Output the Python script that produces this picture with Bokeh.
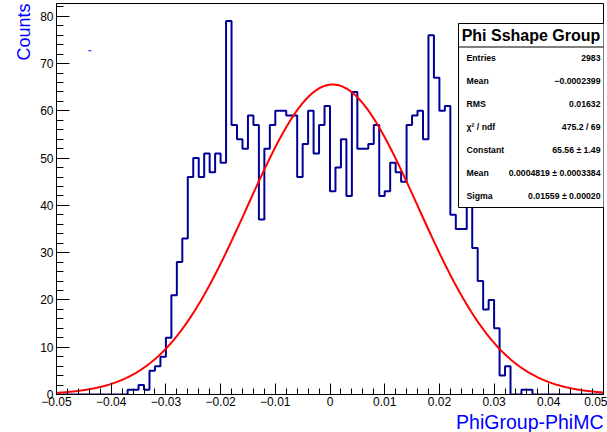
import numpy as np
from bokeh.plotting import figure
from bokeh.models import Range1d, FixedTicker, Title
from bokeh.embed import file_html
from bokeh.resources import INLINE
from bokeh.core.properties import value

# ---------------- data ----------------
x_min, x_max = -0.05, 0.05
n_bins = 100
counts = [
    0, 0, 0, 0, 0, 0, 0, 0, 0, 0,          # -0.050 .. -0.041
    0, 0, 0, 1, 1, 2, 1, 5, 6, 8,          # -0.040 .. -0.031
    12, 21, 28, 33, 46, 50, 46, 51, 47, 51,  # -0.030 .. -0.021
    49, 79, 57, 54, 52, 59, 57, 37, 52, 57,  # -0.020 .. -0.011
    60, 60, 59, 59, 46, 53, 60, 51, 57, 61,  # -0.010 .. -0.001
    43, 48, 54, 42, 64, 52, 52, 53, 57, 42,  # 0.000 .. 0.009
    43, 49, 47, 45, 57, 59, 60, 54, 76, 67,  # 0.010 .. 0.019
    60, 61, 38, 35, 35, 43, 31, 24, 18, 20,  # 0.020 .. 0.029
    14, 4, 6, 0, 0, 1, 1, 0, 0, 0,         # 0.030 .. 0.039
    0, 0, 0, 0, 0, 0, 0, 0, 0, 0,          # 0.040 .. 0.049
]
y_max = 82.7
fit_constant = 65.56
fit_mean = 0.0004819
fit_sigma = 0.01559

x_ticks = [-0.05, -0.04, -0.03, -0.02, -0.01, 0.0, 0.01, 0.02, 0.03, 0.04, 0.05]
x_tick_labels = ["\u22120.05", "\u22120.04", "\u22120.03", "\u22120.02", "\u22120.01", "0",
                 "0.01", "0.02", "0.03", "0.04", "0.05"]
x_minor_ticks = [round(-0.05 + 0.002 * i, 4) for i in range(51)]
y_ticks = [0, 10, 20, 30, 40, 50, 60, 70, 80]
y_minor_ticks = list(range(0, 84, 2))

# stray blue marker visible in the upper left of the pad
stray_x = [-0.0439]
stray_y = [72.7]

stats_title = "Phi Sshape Group"
stat_names = ["Entries", "Mean", "RMS", "\u03c7\u00b2 / ndf", "Constant", "Mean", "Sigma"]
stat_values = ["2983", "\u22120.0002399", "0.01632", "475.2 / 69", "65.56 \u00b1 1.49",
               "0.0004819 \u00b1 0.0003384", "0.01559 \u00b1 0.00020"]
x_title = "PhiGroup-PhiMC"
y_title = "Counts"

# ---------------- layout (pixels) ----------------
W, H = 607, 432
FRAME_L, FRAME_R, FRAME_T, FRAME_B = 56, 603, 3, 394
PX_PER_X = (FRAME_R - FRAME_L) / (x_max - x_min)
PX_PER_Y = (FRAME_B - FRAME_T) / y_max


def px(xpix):
    return x_min + (xpix - FRAME_L) / PX_PER_X


def py(ypix):
    return (FRAME_B - ypix) / PX_PER_Y


FONT = value("Liberation Sans")

p = figure(width=W, height=H, x_range=Range1d(x_min, x_max), y_range=Range1d(0, y_max),
           output_backend="svg", toolbar_location=None, title=None,
           min_border_left=FRAME_L, min_border_right=W - FRAME_R,
           min_border_top=FRAME_T, min_border_bottom=H - FRAME_B)
p.background_fill_color = "white"
p.border_fill_color = "white"
p.outline_line_color = "black"
p.outline_line_width = 1
p.grid.visible = False

# axes
p.xaxis.ticker = FixedTicker(ticks=x_ticks, minor_ticks=x_minor_ticks)
p.xaxis.major_label_overrides = {t: l for t, l in zip(x_ticks, x_tick_labels)}
p.yaxis.ticker = FixedTicker(ticks=y_ticks, minor_ticks=y_minor_ticks)
for ax in (p.xaxis, p.yaxis):
    ax.axis_line_color = "black"
    ax.major_tick_line_color = "black"
    ax.minor_tick_line_color = "black"
    ax.major_tick_out = 0
    ax.minor_tick_out = 0
    ax.major_label_text_font = "Liberation Sans"
    ax.major_label_text_font_size = "12px"
    ax.major_label_text_color = "black"
p.xaxis.major_tick_in = 11
p.xaxis.minor_tick_in = 6
p.yaxis.major_tick_in = 13
p.yaxis.minor_tick_in = 7
p.xaxis.major_label_standoff = 2
p.yaxis.major_label_standoff = 3

# axis titles (right / top aligned as in the reference)
p.add_layout(Title(text=x_title, align="right", text_font="Liberation Sans",
                   text_font_size="19.5px", text_font_style="normal", text_color="#0000ff",
                   standoff=0, offset=0), "below")
p.add_layout(Title(text=y_title, align="right", text_font="Liberation Sans",
                   text_font_size="18px", text_font_style="normal", text_color="#0000ff",
                   standoff=7, offset=0), "left")

# histogram outline
edges = np.linspace(x_min, x_max, n_bins + 1)
p.step(x=edges, y=counts + [counts[-1]], mode="after", line_color="#000099", line_width=2)

# gaussian fit curve
xs = np.linspace(x_min, x_max, 600)
ys = fit_constant * np.exp(-0.5 * ((xs - fit_mean) / fit_sigma) ** 2)
p.line(xs, ys, line_color="#ff0000", line_width=2)

p.scatter(stray_x, stray_y, marker="dash", size=3, line_color="#0000ff", line_width=1)

# stats box
box_l, box_r, box_t, box_b, box_sep = px(458), px(604), py(23), py(207), py(46.5)
p.quad(left=[box_l], right=[box_r], top=[box_t], bottom=[box_b],
       fill_color="white", line_color="black", line_width=1)
p.segment(x0=[box_l], x1=[box_r], y0=[box_sep], y1=[box_sep], line_color="black", line_width=1)
p.text(x=[px(530.5)], y=[py(35)], text=[stats_title], text_font=FONT, text_font_size="16px",
       text_font_style="bold", text_align="center", text_baseline="middle", text_color="black")
row_px = [57 + 23.1 * i for i in range(len(stat_names))]
p.text(x=[px(466)] * len(stat_names), y=[py(r) for r in row_px], text=stat_names, text_font=FONT,
       text_font_size="8.7px", text_font_style="bold", text_align="left", text_baseline="middle",
       text_color="black")
p.text(x=[px(600)] * len(stat_values), y=[py(r) for r in row_px], text=stat_values, text_font=FONT,
       text_font_size="8.7px", text_font_style="bold", text_align="right", text_baseline="middle",
       text_color="black")

open("out.html", "w").write(file_html(p, INLINE))
